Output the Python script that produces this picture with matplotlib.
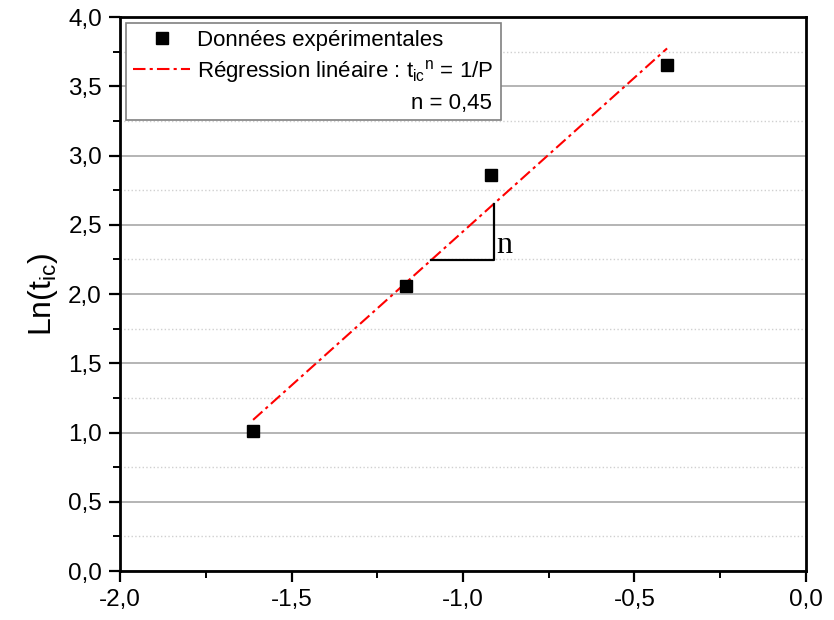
import numpy as np
import matplotlib
matplotlib.use("Agg")
import matplotlib.pyplot as plt
from matplotlib.ticker import MultipleLocator, FuncFormatter
from matplotlib.lines import Line2D

# ---- data ----
x_data = [-1.612, -1.166, -0.918, -0.405]
y_data = [1.011, 2.058, 2.859, 3.653]
n_value = "0,45"
# slope triangle annotation (data coords)
tri_x = [-1.093, -0.910, -0.910]
tri_y = [2.245, 2.245, 2.650]
n_label_pos = (-0.902, 2.354)
x_ticks = [-2.0, -1.5, -1.0, -0.5, 0.0]
y_ticks = [0.0, 0.5, 1.0, 1.5, 2.0, 2.5, 3.0, 3.5, 4.0]

plt.rcParams['font.family'] = ['Liberation Sans', 'DejaVu Sans']
plt.rcParams['mathtext.default'] = 'regular'

fig = plt.figure(figsize=(8.34, 6.2), dpi=100)
ax = fig.add_axes([0.1439, 0.079, 0.8225, 0.8935])

# fit line
p = np.polyfit(x_data, y_data, 1)
xf = np.array([min(x_data), max(x_data)])
yf = np.polyval(p, xf)

ax.set_xlim(-2.0, 0.0)
ax.set_ylim(0.0, 4.0)
ax.set_xticks(x_ticks)
ax.set_yticks(y_ticks)
ax.xaxis.set_minor_locator(MultipleLocator(0.25))
ax.yaxis.set_minor_locator(MultipleLocator(0.25))
fmt = FuncFormatter(lambda v, pos: f"{v:.1f}".replace('.', ',').replace('-0,0', '0,0'))
ax.xaxis.set_major_formatter(fmt)
ax.yaxis.set_major_formatter(fmt)

ax.grid(True, which='major', axis='y', color='#a8a8a8', lw=1.2, ls='-')
ax.grid(True, which='minor', axis='y', color='#d0d0d0', lw=1.0, ls=':')
ax.set_axisbelow(True)

ax.tick_params(which='major', direction='out', length=8, width=1.6, labelsize=17.5, pad=5)
ax.tick_params(which='minor', direction='out', length=5, width=1.4)
for s in ax.spines.values():
    s.set_linewidth(2.0)

line, = ax.plot(xf, yf, color='red', lw=1.5, dashes=(6, 2, 1.5, 2),
                label='Régression linéaire : t$_{ic}$$^{n}$ = 1/P', zorder=3)
pts, = ax.plot(x_data, y_data, ls='none', marker='s', ms=9, color='black',
               label='Données expérimentales', zorder=4)

ax.plot(tri_x, tri_y, color='black', lw=1.6, zorder=3)
ax.text(n_label_pos[0], n_label_pos[1], 'n', family='Liberation Serif', fontsize=23,
        va='center', ha='left')

ax.set_ylabel('Ln(t$_{ic}$)', fontsize=23, labelpad=6)

blank = Line2D([], [], ls='none', marker=None)
leg = ax.legend(handles=[pts, line, blank],
                labels=['Données expérimentales', 'Régression linéaire : t$_{ic}$$^{n}$ = 1/P', ' '],
                loc='upper left', fontsize=16, frameon=True, fancybox=False,
                edgecolor='#808080', framealpha=1, borderaxespad=0.25,
                handlelength=2.6, handletextpad=0.3, labelspacing=0.32, borderpad=0.32)
leg.get_frame().set_linewidth(1.2)

fig.canvas.draw()
bb = leg.get_window_extent()
inv = ax.transAxes.inverted()
x1, y0 = inv.transform((bb.x1 - 9, bb.y0 + 17))
ax.text(x1, y0, 'n = ' + n_value, transform=ax.transAxes, ha='right', va='center',
        fontsize=16, zorder=10)

fig.savefig('out.png', dpi=100)
